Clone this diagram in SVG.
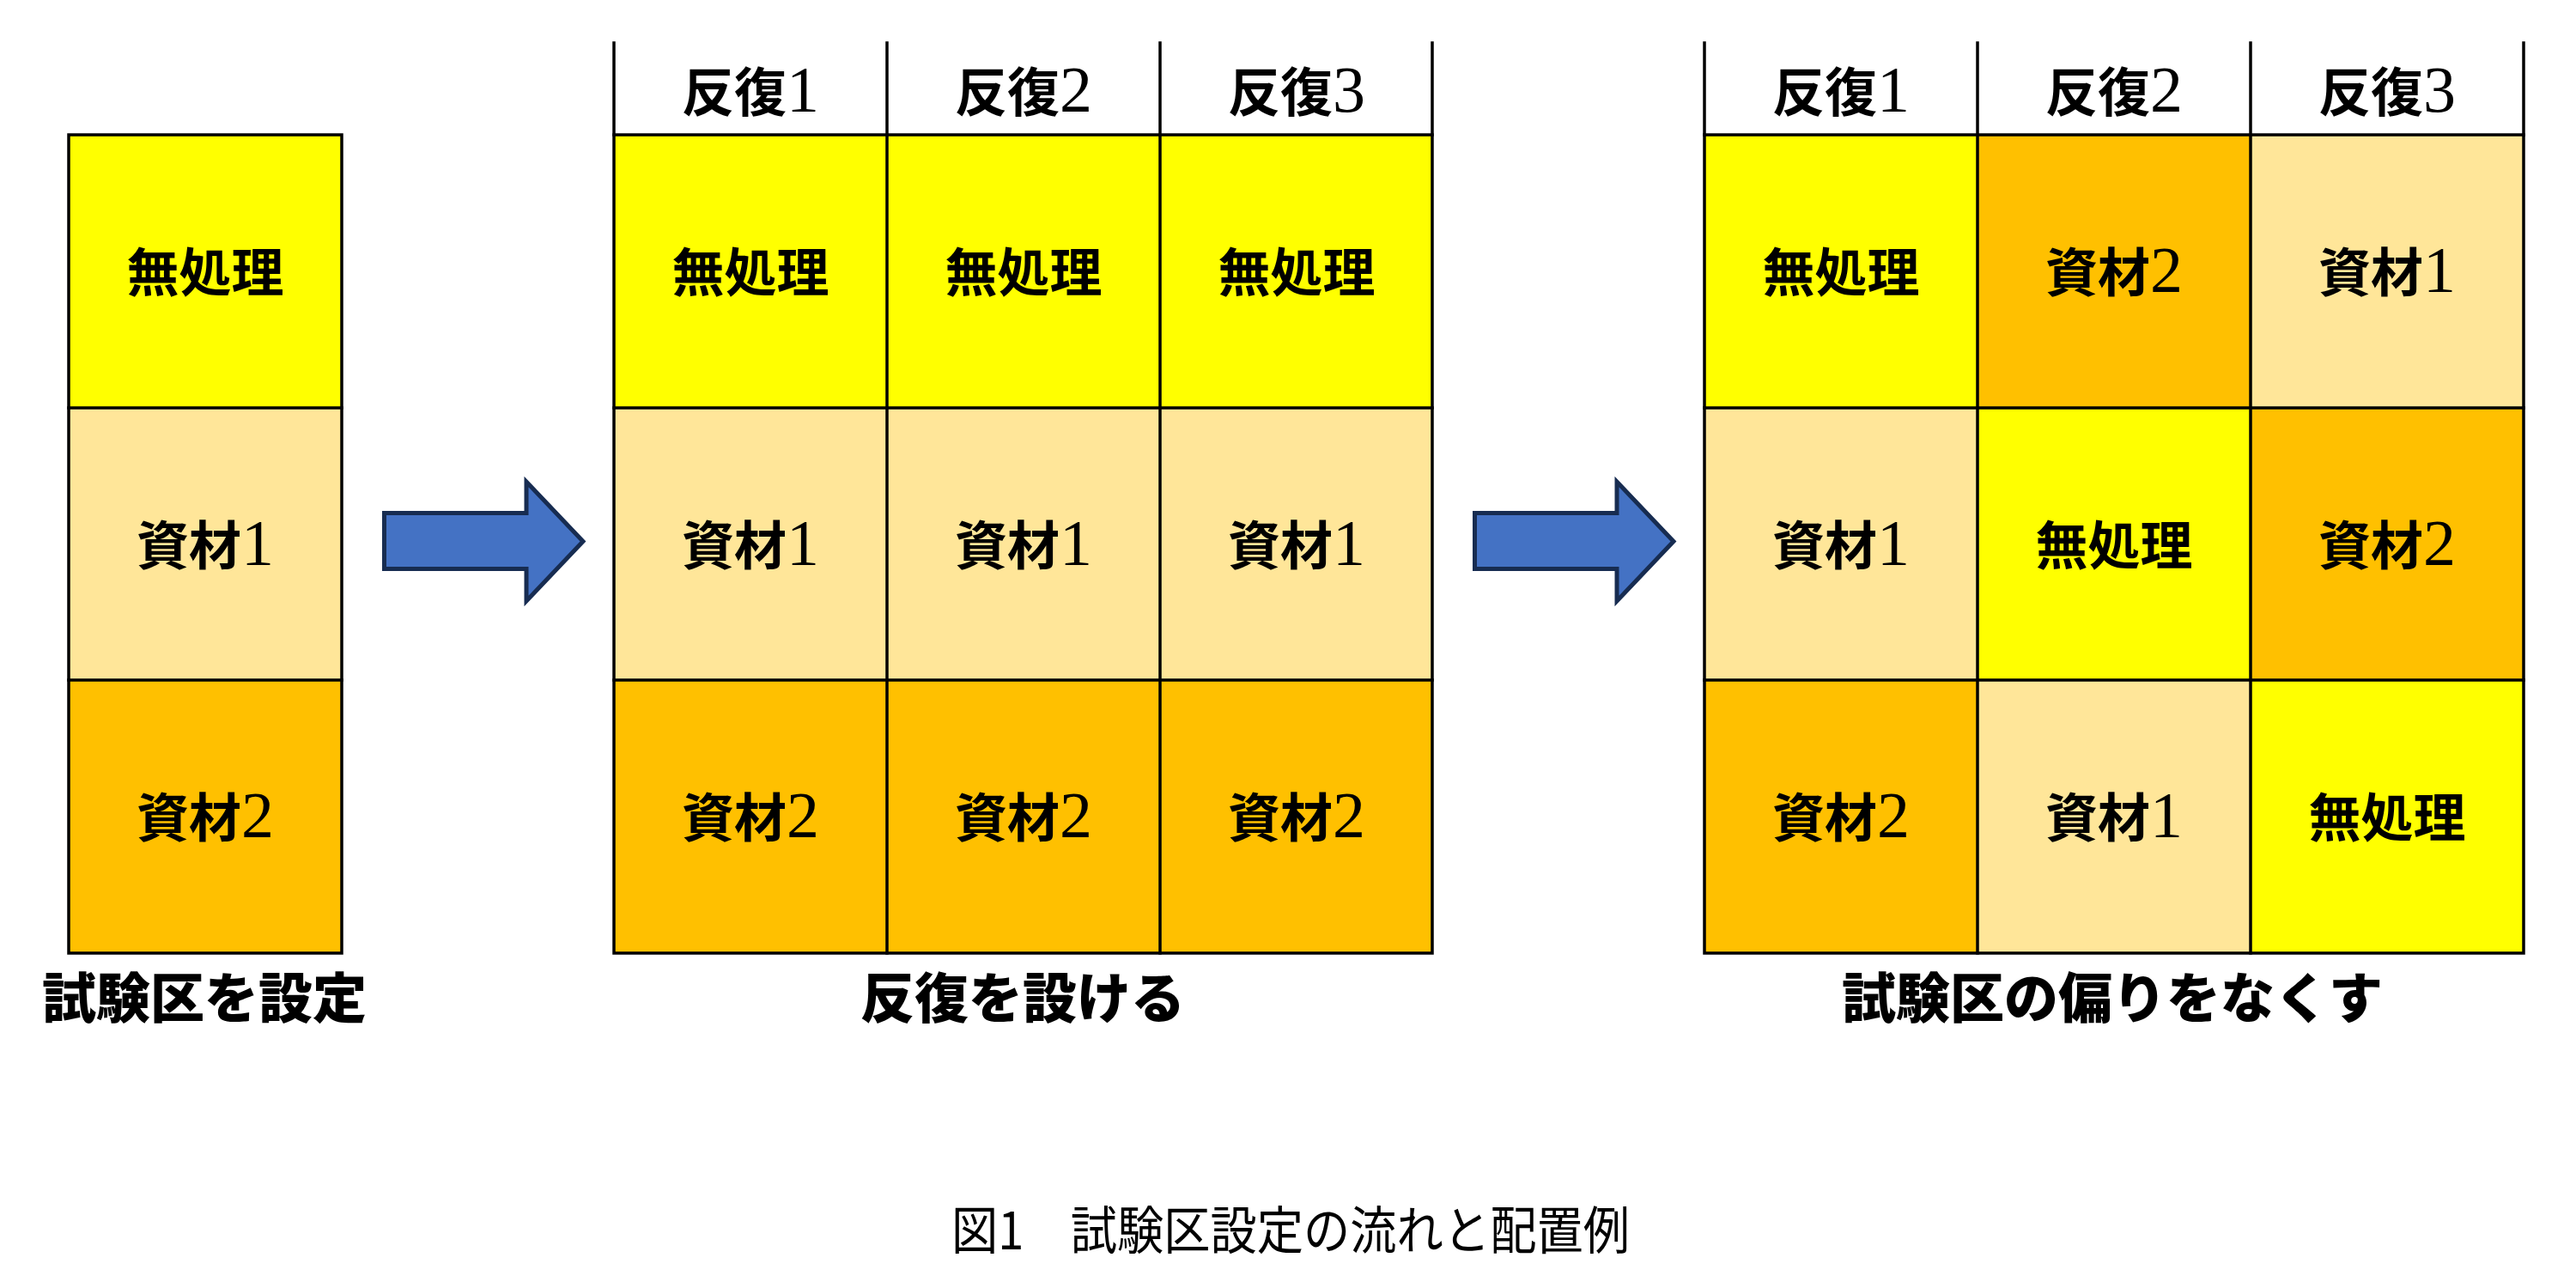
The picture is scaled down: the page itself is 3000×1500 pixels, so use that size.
<svg xmlns="http://www.w3.org/2000/svg" width="3000" height="1500" viewBox="0 0 3000 1500">
<style>
  .c0{fill:#FFFF00}
  .c1{fill:#FFE699}
  .c2{fill:#FFC000}
  .ln{stroke:#000;stroke-width:3.5;fill:none;stroke-linecap:square}
  .t{font-family:"Noto Sans CJK JP","Noto Sans CJK SC",sans-serif;font-size:61px;font-weight:700;fill:#000;text-anchor:middle}
  .d{font-family:"Liberation Serif",serif;font-size:76px;font-weight:400}
  .lab{font-family:"Noto Sans CJK JP","Noto Sans CJK SC",sans-serif;font-size:63px;font-weight:900;fill:#000;text-anchor:middle}
  .cap{font-family:"Noto Sans CJK JP","Noto Sans CJK SC",sans-serif;font-size:60px;font-weight:400;fill:#000;text-anchor:middle}
  .arr{fill:#4472C4;stroke:#172C51;stroke-width:5;stroke-linejoin:miter}
</style>
<defs>
  <polygon id="arrow" class="arr" points="447.5,597.5 613,597.5 613,561 679,630.5 613,700 613,662.5 447.5,662.5"/>
</defs>
<rect width="3000" height="1500" fill="#fff"/>

<g id="setup">
  <rect class="c0" x="80" y="157" width="318" height="318"/>
  <rect class="c1" x="80" y="475" width="318" height="317"/>
  <rect class="c2" x="80" y="792" width="318" height="318"/>
  <rect class="ln" x="80" y="157" width="318" height="953"/>
  <line class="ln" x1="80" y1="475" x2="398" y2="475"/>
  <line class="ln" x1="80" y1="792" x2="398" y2="792"/>
  <text class="t" x="239" y="340">無処理</text>
  <text class="t" x="239" y="658">資材<tspan class="d">1</tspan></text>
  <text class="t" x="239" y="975">資材<tspan class="d">2</tspan></text>
  <text class="lab" x="238" y="1185">試験区を設定</text>
</g>

<g id="replicates">
  <rect class="c0" x="715" y="157" width="953" height="318"/>
  <rect class="c1" x="715" y="475" width="953" height="317"/>
  <rect class="c2" x="715" y="792" width="953" height="318"/>
  <polyline class="ln" points="715,50 715,1110 1668,1110 1668,50"/>
  <line class="ln" x1="1033" y1="50" x2="1033" y2="1110"/>
  <line class="ln" x1="1351" y1="50" x2="1351" y2="1110"/>
  <line class="ln" x1="715" y1="157" x2="1668" y2="157"/>
  <line class="ln" x1="715" y1="475" x2="1668" y2="475"/>
  <line class="ln" x1="715" y1="792" x2="1668" y2="792"/>
  <text class="t" x="874" y="130">反復<tspan class="d">1</tspan></text>
  <text class="t" x="1192" y="130">反復<tspan class="d">2</tspan></text>
  <text class="t" x="1510" y="130">反復<tspan class="d">3</tspan></text>
  <text class="t" x="874" y="340">無処理</text>
  <text class="t" x="1192" y="340">無処理</text>
  <text class="t" x="1510" y="340">無処理</text>
  <text class="t" x="874" y="658">資材<tspan class="d">1</tspan></text>
  <text class="t" x="1192" y="658">資材<tspan class="d">1</tspan></text>
  <text class="t" x="1510" y="658">資材<tspan class="d">1</tspan></text>
  <text class="t" x="874" y="975">資材<tspan class="d">2</tspan></text>
  <text class="t" x="1192" y="975">資材<tspan class="d">2</tspan></text>
  <text class="t" x="1510" y="975">資材<tspan class="d">2</tspan></text>
  <text class="lab" x="1191" y="1185">反復を設ける</text>
</g>

<g id="randomized">
  <rect class="c0" x="1985" y="157" width="318" height="318"/>
  <rect class="c2" x="2303" y="157" width="318" height="318"/>
  <rect class="c1" x="2621" y="157" width="318" height="318"/>
  <rect class="c1" x="1985" y="475" width="318" height="317"/>
  <rect class="c0" x="2303" y="475" width="318" height="317"/>
  <rect class="c2" x="2621" y="475" width="318" height="317"/>
  <rect class="c2" x="1985" y="792" width="318" height="318"/>
  <rect class="c1" x="2303" y="792" width="318" height="318"/>
  <rect class="c0" x="2621" y="792" width="318" height="318"/>
  <polyline class="ln" points="1985,50 1985,1110 2939,1110 2939,50"/>
  <line class="ln" x1="2303" y1="50" x2="2303" y2="1110"/>
  <line class="ln" x1="2621" y1="50" x2="2621" y2="1110"/>
  <line class="ln" x1="1985" y1="157" x2="2939" y2="157"/>
  <line class="ln" x1="1985" y1="475" x2="2939" y2="475"/>
  <line class="ln" x1="1985" y1="792" x2="2939" y2="792"/>
  <text class="t" x="2144" y="130">反復<tspan class="d">1</tspan></text>
  <text class="t" x="2462" y="130">反復<tspan class="d">2</tspan></text>
  <text class="t" x="2780" y="130">反復<tspan class="d">3</tspan></text>
  <text class="t" x="2144" y="340">無処理</text>
  <text class="t" x="2462" y="340">資材<tspan class="d">2</tspan></text>
  <text class="t" x="2780" y="340">資材<tspan class="d">1</tspan></text>
  <text class="t" x="2144" y="658">資材<tspan class="d">1</tspan></text>
  <text class="t" x="2462" y="658">無処理</text>
  <text class="t" x="2780" y="658">資材<tspan class="d">2</tspan></text>
  <text class="t" x="2144" y="975">資材<tspan class="d">2</tspan></text>
  <text class="t" x="2462" y="975">資材<tspan class="d">1</tspan></text>
  <text class="t" x="2780" y="975">無処理</text>
  <text class="lab" x="2460" y="1185">試験区の偏りをなくす</text>
</g>

<g id="connectors">
  <use href="#arrow"/>
  <use href="#arrow" x="1270"/>
</g>

<g id="caption">
  <text class="cap" x="1503" y="1455" textLength="790" lengthAdjust="spacingAndGlyphs">図1　試験区設定の流れと配置例</text>
</g>
</svg>
